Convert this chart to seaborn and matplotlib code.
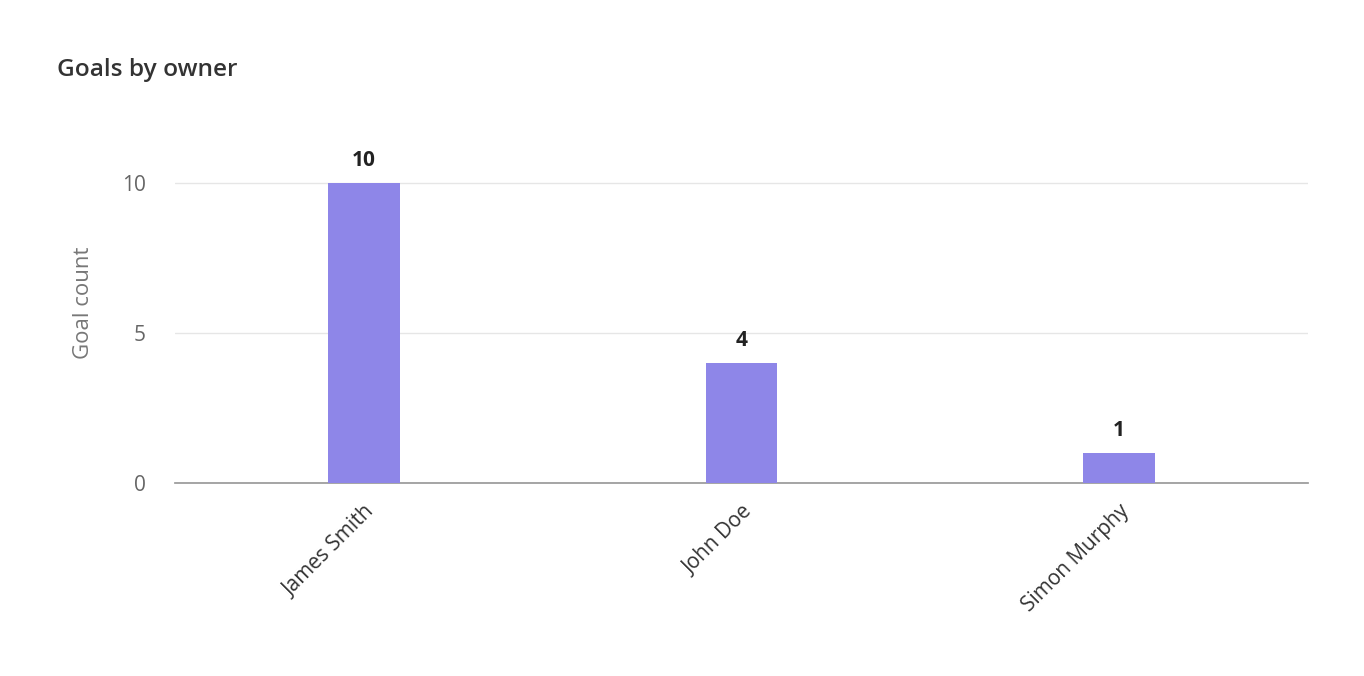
import matplotlib
matplotlib.use("Agg")
import pandas as pd
import seaborn as sns
import matplotlib.pyplot as plt

# chart data
owners = ["James Smith", "John Doe", "Simon Murphy"]
goal_counts = [10, 4, 1]
y_ticks = [0, 5, 10]

df = pd.DataFrame({"owner": owners, "count": goal_counts})

sns.set_theme(style="white")
plt.rcParams['font.family'] = ['Open Sans', 'DejaVu Sans']

fig = plt.figure(figsize=(13.64, 6.76), dpi=100)
ax = fig.add_axes([0.1283, 0.2855, 0.8307, 0.5325])

sns.barplot(data=df, x="owner", y="count", color="#8E86E8", width=0.19,
            saturation=1, linewidth=0, ax=ax, zorder=3)

ax.set_xlim(-0.5, 2.5)
ax.set_ylim(0, 12)
ax.set_yticks(y_ticks)
ax.grid(axis="y", color="#e6e6e6", linewidth=1, zorder=0)
sns.despine(ax=ax, left=True, top=True, right=True)
ax.spines["bottom"].set_color("#9a9a9a")
ax.tick_params(axis="y", length=0, pad=21, labelsize=15, labelcolor="#666666")
ax.tick_params(axis="x", length=0, pad=13, labelsize=15, labelcolor="#333333")
for lbl in ax.get_xticklabels():
    lbl.set_rotation(45)
    lbl.set_ha("right")
    lbl.set_rotation_mode("anchor")

ax.set_xlabel("")
ax.set_ylabel("Goal count", fontsize=16, color="#777777", labelpad=20)

for c in ax.containers:
    ax.bar_label(c, labels=[str(v) for v in goal_counts], padding=9,
                 fontsize=15, fontweight="bold", color="#222222")

fig.text(0.042, 0.8876, "Goals by owner", fontsize=17.6, fontweight="semibold",
         color="#333333")

fig.savefig("out.png", dpi=100)
